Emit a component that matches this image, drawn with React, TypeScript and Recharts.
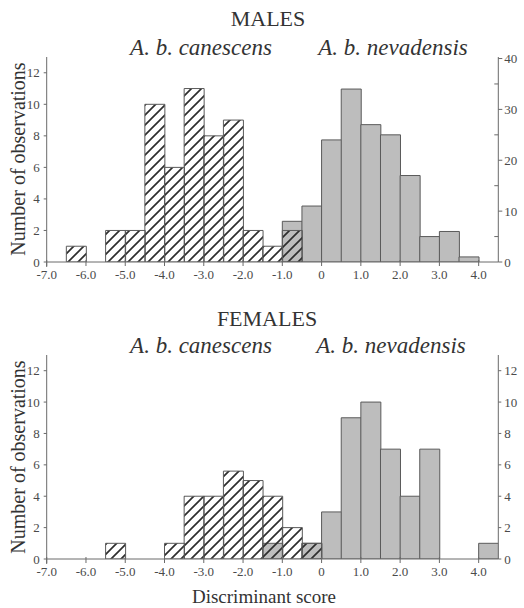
import React from 'react';
import { ComposedChart, Bar, XAxis, YAxis } from 'recharts';

const binCenters = [-6.75, -6.25, -5.75, -5.25, -4.75, -4.25, -3.75, -3.25, -2.75, -2.25, -1.75, -1.25, -0.75, -0.25, 0.25, 0.75, 1.25, 1.75, 2.25, 2.75, 3.25, 3.75, 4.25];
const maleCanescens = [null, 1, null, 2, 2, 10, 6, 11, 8, 9, 2, 1, 2, null, null, null, null, null, null, null, null, null, null];
const maleNevadensis = [null, null, null, null, null, null, null, null, null, null, null, null, 8, 11, 24, 34, 27, 25, 17, 5, 6, 1, null];
const femaleCanescens = [null, null, null, 1, null, null, 1, 4, 4, 5.6, 5, 4, 2, 1, null, null, null, null, null, null, null, null, null];
const femaleNevadensis = [null, null, null, null, null, null, null, null, null, null, null, 1, null, 1, 3, 9, 10, 7, 4, 7, null, null, 1];
const xTicks = [-7, -6, -5, -4, -3, -2, -1, 0, 1, 2, 3, 4];
const leftTicks = [0, 2, 4, 6, 8, 10, 12];
const maleRightTicks = [0, 5, 10, 15, 20, 25, 30, 35, 40];

const maleData = binCenters.map((x, i) => ({ x, can: maleCanescens[i], nev: maleNevadensis[i] }));
const femaleData = binCenters.map((x, i) => ({ x, can: femaleCanescens[i], nev: femaleNevadensis[i] }));

const SERIF = '"Liberation Serif", "Times New Roman", Times, serif';
const TICK_COLOR = '#4a4a4a';
const AXIS_COLOR = '#6a6a6a';

const fmtX = (v: number) => (v === 0 ? '0' : v.toFixed(1));

const XTick = (props: any) => {
  const { x, y, payload } = props;
  return (
    <g>
      <line x1={x} x2={x} y1={y - 2} y2={y + 4} stroke={AXIS_COLOR} />
      <text x={x} y={y + 17} textAnchor="middle" fontSize={13} fill={TICK_COLOR} style={{ fontFamily: SERIF }}>
        {fmtX(payload.value)}
      </text>
    </g>
  );
};

const LeftTick = (props: any) => {
  const { x, y, payload } = props;
  return (
    <g>
      <line x1={x - 3} x2={x} y1={y} y2={y} stroke={AXIS_COLOR} />
      {payload.value === 0 ? <line x1={x} x2={x} y1={y} y2={y + 5} stroke={AXIS_COLOR} /> : null}
      <text x={x - 7} y={y} dy="0.35em" textAnchor="end" fontSize={13} fill={TICK_COLOR} style={{ fontFamily: SERIF }}>
        {payload.value}
      </text>
    </g>
  );
};

const RightTickMale = (props: any) => {
  const { x, y, payload } = props;
  const major = payload.value % 10 === 0;
  if (!major) {
    return <line x1={x - 4} x2={x} y1={y} y2={y} stroke={AXIS_COLOR} />;
  }
  return (
    <g>
      <line x1={x} x2={x + 4} y1={y} y2={y} stroke={AXIS_COLOR} />
      <text x={x + 6} y={y} dy="0.35em" textAnchor="start" fontSize={13} fill={TICK_COLOR} style={{ fontFamily: SERIF }}>
        {payload.value}
      </text>
    </g>
  );
};

const RightTickFemale = (props: any) => {
  const { x, y, payload } = props;
  return (
    <g>
      <line x1={x} x2={x + 3} y1={y} y2={y} stroke={AXIS_COLOR} />
      <text x={x + 6} y={y} dy="0.35em" textAnchor="start" fontSize={13} fill={TICK_COLOR} style={{ fontFamily: SERIF }}>
        {payload.value}
      </text>
    </g>
  );
};

const Hatch = ({ id }: { id: string }) => (
  <defs>
    <pattern id={id} patternUnits="userSpaceOnUse" width={10} height={10}>
      <path d="M0,10 L10,0 M-2.5,2.5 L2.5,-2.5 M7.5,12.5 L12.5,7.5" stroke="#2e2e2e" strokeWidth={1.7} />
    </pattern>
  </defs>
);

const GREY = '#bdbdbd';
const BAR_STROKE = '#5a5a5a';

export default function App() {
  return (
    <div style={{ position: 'absolute', left: 0, top: 0, width: 524, height: 608, background: '#fff' }}>
      <div style={{ position: 'absolute', left: 0, top: 0 }}>
        <ComposedChart width={524} height={290} data={maleData} barCategoryGap={0} barGap={0}
          margin={{ top: 57, right: 5.7, bottom: 8, left: 6.7 }}>
          <Hatch id="hatchM" />
          <XAxis xAxisId="a" dataKey="x" type="number" domain={[-7, 4.5]} allowDataOverflow ticks={xTicks}
            height={20} tickSize={0} tickMargin={0} tick={<XTick />} axisLine={{ stroke: AXIS_COLOR }} />
          <XAxis xAxisId="b" dataKey="x" type="number" domain={[-7, 4.5]} allowDataOverflow hide />
          <YAxis yAxisId="l" orientation="left" domain={[0, 13]} allowDataOverflow ticks={leftTicks} width={40}
            tickSize={0} tickMargin={0} tick={<LeftTick />} axisLine={{ stroke: AXIS_COLOR }} />
          <YAxis yAxisId="r" orientation="right" domain={[0, 40.3]} allowDataOverflow ticks={maleRightTicks} width={20}
            tickSize={0} tickMargin={0} tick={<RightTickMale />} axisLine={{ stroke: AXIS_COLOR }} />
          <Bar xAxisId="a" yAxisId="r" dataKey="nev" fill={GREY} stroke={BAR_STROKE} strokeWidth={1} isAnimationActive={false} />
          <Bar xAxisId="b" yAxisId="l" dataKey="can" fill="url(#hatchM)" stroke={BAR_STROKE} strokeWidth={1} isAnimationActive={false} />
        </ComposedChart>
      </div>
      <div style={{ position: 'absolute', left: 0, top: 300 }}>
        <ComposedChart width={524} height={290} data={femaleData} barCategoryGap={0} barGap={0}
          margin={{ top: 55, right: 5.7, bottom: 11, left: 6.7 }}>
          <Hatch id="hatchF" />
          <XAxis xAxisId="a" dataKey="x" type="number" domain={[-7, 4.5]} allowDataOverflow ticks={xTicks}
            height={20} tickSize={0} tickMargin={0} tick={<XTick />} axisLine={{ stroke: AXIS_COLOR }} />
          <XAxis xAxisId="b" dataKey="x" type="number" domain={[-7, 4.5]} allowDataOverflow hide />
          <YAxis yAxisId="l" orientation="left" domain={[0, 13]} allowDataOverflow ticks={leftTicks} width={40}
            tickSize={0} tickMargin={0} tick={<LeftTick />} axisLine={{ stroke: AXIS_COLOR }} />
          <YAxis yAxisId="r" orientation="right" domain={[0, 13]} allowDataOverflow ticks={leftTicks} width={20}
            tickSize={0} tickMargin={0} tick={<RightTickFemale />} axisLine={{ stroke: AXIS_COLOR }} />
          <Bar xAxisId="a" yAxisId="l" dataKey="nev" fill={GREY} stroke={BAR_STROKE} strokeWidth={1} isAnimationActive={false} />
          <Bar xAxisId="b" yAxisId="l" dataKey="can" fill="url(#hatchF)" stroke={BAR_STROKE} strokeWidth={1} isAnimationActive={false} />
        </ComposedChart>
      </div>
      <svg width={524} height={608} style={{ position: 'absolute', left: 0, top: 0, pointerEvents: 'none', fontFamily: SERIF }}>
        <g fill="#333">
          <text x={268} y={26} textAnchor="middle" fontSize={22}>MALES</text>
          <text x={201} y={55} textAnchor="middle" fontSize={23} fontStyle="italic">A. b. canescens</text>
          <text x={393} y={55} textAnchor="middle" fontSize={23} fontStyle="italic">A. b. nevadensis</text>
          <text x={267} y={326} textAnchor="middle" fontSize={22}>FEMALES</text>
          <text x={201} y={353} textAnchor="middle" fontSize={23} fontStyle="italic">A. b. canescens</text>
          <text x={391} y={353} textAnchor="middle" fontSize={23} fontStyle="italic">A. b. nevadensis</text>
          <text transform="translate(25,159) rotate(-90)" textAnchor="middle" fontSize={20}>Number of observations</text>
          <text transform="translate(25,457) rotate(-90)" textAnchor="middle" fontSize={20}>Number of observations</text>
          <text x={264} y={603} textAnchor="middle" fontSize={19}>Discriminant score</text>
        </g>
      </svg>
    </div>
  );
}
